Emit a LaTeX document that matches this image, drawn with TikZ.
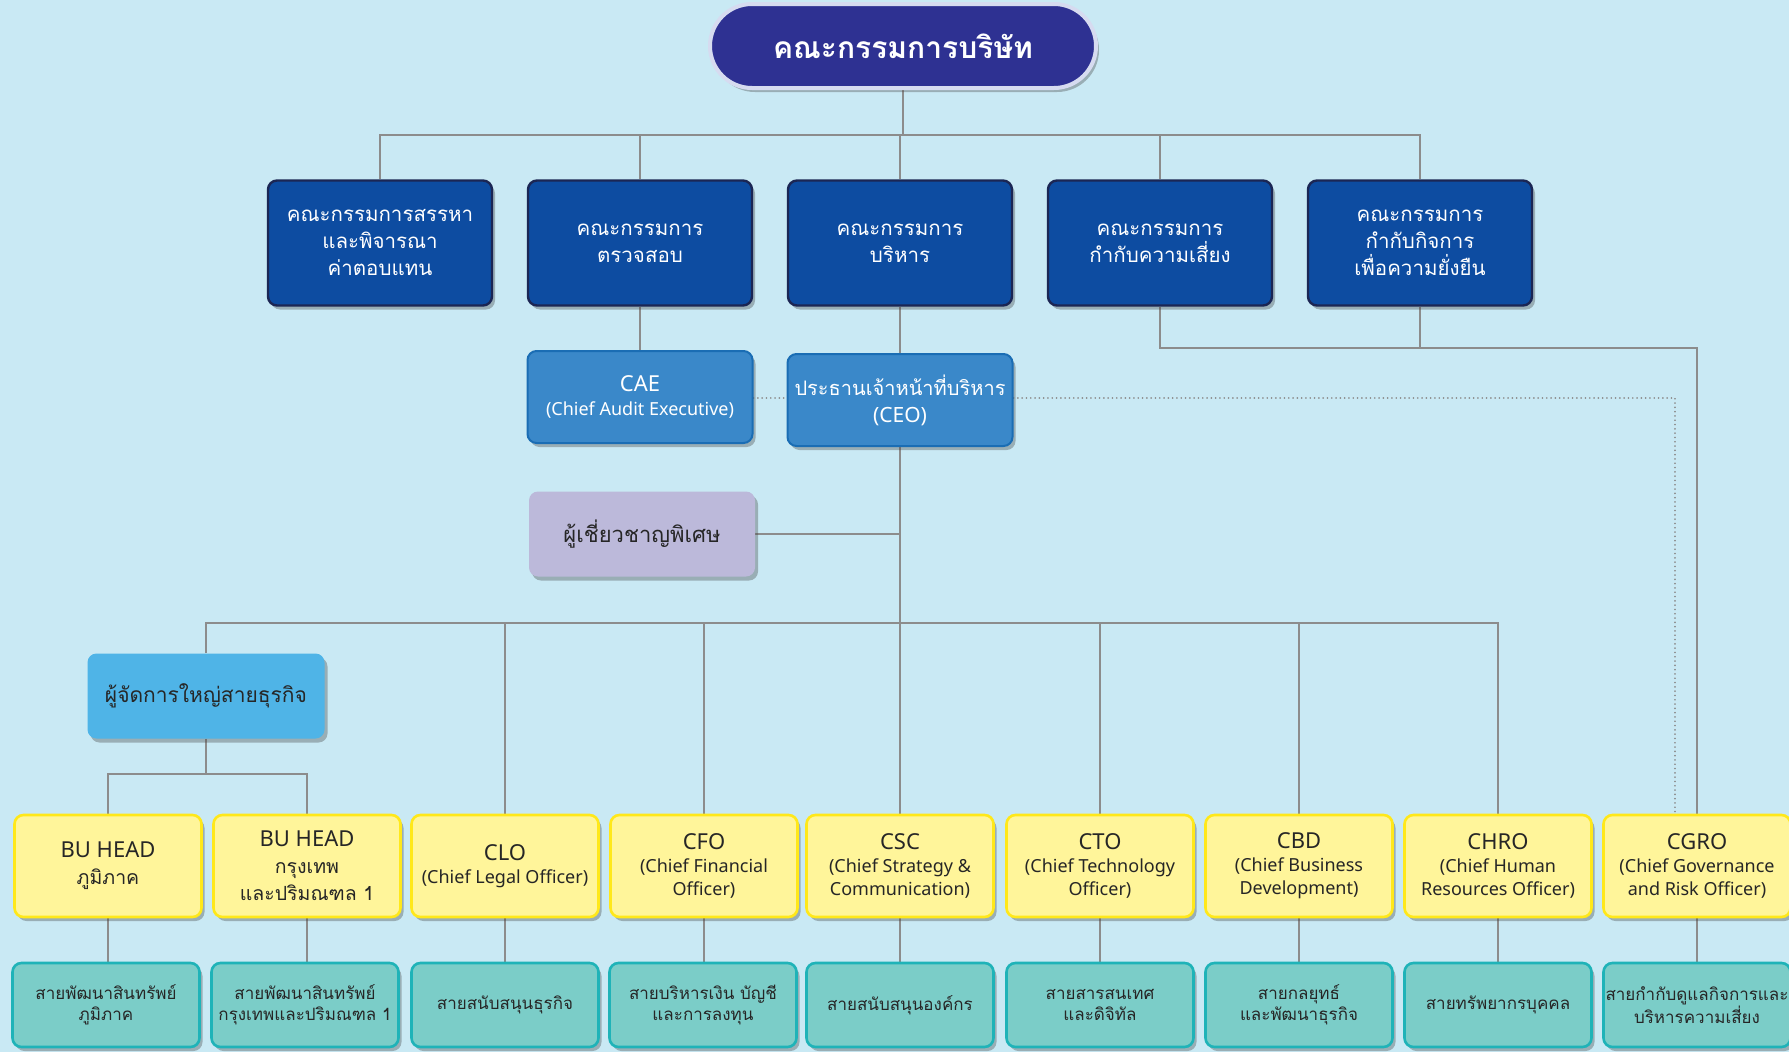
\documentclass[tikz,border=0pt]{standalone}
\usepackage{fontspec}
\setmainfont{Noto Sans}
\newfontfamily\thfont[Script=Thai]{Loma}
\usetikzlibrary{shadows}

\definecolor{bgblue}{HTML}{C9E9F4}
\definecolor{boardfill}{HTML}{2E3192}
\definecolor{boardline}{HTML}{D6DBF0}
\definecolor{comfill}{HTML}{0D4CA1}
\definecolor{comline}{HTML}{1B2654}
\definecolor{execfill}{HTML}{3A88C9}
\definecolor{execline}{HTML}{1A6DB4}
\definecolor{expfill}{HTML}{BCB9DA}
\definecolor{gmfill}{HTML}{4FB4E7}
\definecolor{yelfill}{HTML}{FFF59A}
\definecolor{yelline}{HTML}{FFE81A}
\definecolor{tealfill}{HTML}{7BCDC8}
\definecolor{tealline}{HTML}{1FB3B8}
\definecolor{linegray}{HTML}{8C8C8C}
\definecolor{inkdark}{HTML}{262626}

\pgfdeclarelayer{bgfill}
\pgfdeclarelayer{background}
\pgfsetlayers{bgfill,background,main}

\tikzset{
  conn/.style={draw=linegray, line width=2.8pt},
  dotconn/.style={draw=linegray, line width=1.7pt, line cap=round, dash pattern=on 0.1pt off 4.2pt},
  boxbase/.style={rectangle, rounded corners=9pt, inner sep=0pt, align=center,
    drop shadow={shadow xshift=3pt, shadow yshift=-4pt, opacity=0.35, fill=black!75}},
  boardbox/.style={boxbase, rounded corners=42pt, fill=boardfill, draw=boardline, line width=4pt,
    minimum width=386pt, minimum height=84pt, text=white,
    font=\thfont\bfseries\fontsize{30}{36}\selectfont},
  combox/.style={boxbase, fill=comfill, draw=comline, line width=2.4pt,
    minimum width=224pt, minimum height=125pt, text=white,
    font=\thfont\fontsize{20.5}{27}\selectfont},
  execbox/.style={boxbase, fill=execfill, draw=execline, line width=2pt,
    minimum width=225pt, minimum height=92pt, text=white},
  expbox/.style={boxbase, fill=expfill, minimum width=226pt, minimum height=85pt, text=inkdark,
    font=\thfont\fontsize{22}{27}\selectfont},
  gmbox/.style={boxbase, fill=gmfill, minimum width=237pt, minimum height=85pt, text=inkdark,
    font=\thfont\fontsize{21}{27}\selectfont},
  yelbox/.style={boxbase, fill=yelfill, draw=yelline, line width=2.6pt,
    minimum width=187pt, minimum height=102pt, text=inkdark,
    font=\fontsize{22}{23}\selectfont},
  tealbox/.style={boxbase, fill=tealfill, draw=tealline, line width=2.6pt,
    minimum width=187pt, minimum height=84pt, text=inkdark,
    font=\thfont\fontsize{17}{21}\selectfont},
}
% smaller second-level lines inside the officer boxes
\newcommand\subline{\fontsize{18}{20}\selectfont}
% Thai lines inside the officer boxes
\newcommand\thline{\thfont\fontsize{19.5}{23}\selectfont}

\begin{document}
\begin{tikzpicture}[x=1pt,y=-1pt]
\useasboundingbox (0,0) rectangle (1789,1052);
\begin{pgfonlayer}{bgfill}
  \fill[bgblue] (0,0) rectangle (1789,1052);
\end{pgfonlayer}

% board of directors
\node[boardbox] (board) at (903,46) {คณะกรรมการบริษัท};

% board committees
\node[combox] (c1) at (380,243) {คณะกรรมการสรรหา\\และพิจารณา\\ค่าตอบแทน};
\node[combox] (c2) at (640,243) {คณะกรรมการ\\ตรวจสอบ};
\node[combox] (c3) at (900,243) {คณะกรรมการ\\บริหาร};
\node[combox] (c4) at (1160,243) {คณะกรรมการ\\กำกับความเสี่ยง};
\node[combox] (c5) at (1420,243) {คณะกรรมการ\\กำกับกิจการ\\เพื่อความยั่งยืน};

% executives
\node[execbox, font=\fontsize{22}{24}\selectfont] (cae) at (640,397) {CAE\\\subline(Chief Audit Executive)};
\node[execbox, font=\fontsize{21}{27}\selectfont] (ceo) at (900,400) {\thfont\fontsize{20}{27}\selectfont ประธานเจ้าหน้าที่บริหาร\\(CEO)};
\node[expbox] (exp) at (642,534) {ผู้เชี่ยวชาญพิเศษ};
\node[gmbox] (gm) at (206,696) {ผู้จัดการใหญ่สายธุรกิจ};

% chief officers
\node[yelbox] (y1) at (108,866) {BU HEAD\\[4pt]\thline ภูมิภาค};
\node[yelbox] (y2) at (307,866) {BU HEAD\\[4pt]\thline กรุงเทพ\\[4pt]\thline และปริมณฑล 1};
\node[yelbox] (y3) at (505,866) {CLO\\\subline(Chief Legal Officer)};
\node[yelbox] (y4) at (704,866) {CFO\\\subline(Chief Financial\\\subline Officer)};
\node[yelbox] (y5) at (900,866) {CSC\\\subline(Chief Strategy \&\\\subline Communication)};
\node[yelbox] (y6) at (1100,866) {CTO\\\subline(Chief Technology\\\subline Officer)};
\node[yelbox] (y7) at (1299,866) {CBD\\\subline(Chief Business\\\subline Development)};
\node[yelbox] (y8) at (1498,866) {CHRO\\\subline(Chief Human\\\subline Resources Officer)};
\node[yelbox] (y9) at (1697,866) {CGRO\\\subline(Chief Governance\\\subline and Risk Officer)};

% divisions
\node[tealbox] (t1) at (106,1005) {สายพัฒนาสินทรัพย์\\ภูมิภาค};
\node[tealbox] (t2) at (305,1005) {สายพัฒนาสินทรัพย์\\กรุงเทพและปริมณฑล 1};
\node[tealbox] (t3) at (505,1005) {สายสนับสนุนธุรกิจ};
\node[tealbox] (t4) at (703,1005) {สายบริหารเงิน บัญชี\\และการลงทุน};
\node[tealbox] (t5) at (900,1005) {สายสนับสนุนองค์กร};
\node[tealbox] (t6) at (1100,1005) {สายสารสนเทศ\\และดิจิทัล};
\node[tealbox] (t7) at (1299,1005) {สายกลยุทธ์\\และพัฒนาธุรกิจ};
\node[tealbox] (t8) at (1498,1005) {สายทรัพยากรบุคคล};
\node[tealbox] (t9) at (1697,1005) {สายกำกับดูแลกิจการและ\\บริหารความเสี่ยง};

% connectors
\coordinate (busA) at (0,135);
\coordinate (busR) at (0,348);
\coordinate (dl) at (0,398);
\coordinate (dcorner) at (1675,398);
\coordinate (busB) at (0,623);
\coordinate (busC) at (0,774);
\begin{pgfonlayer}{background}
  \draw[conn] (board) -- (board |- busA);
  \draw[conn] (c1) -- (c1 |- busA) -- (c5 |- busA) -- (c5);
  \foreach \n in {c2,c3,c4} \draw[conn] (\n) -- (\n |- busA);
  \draw[conn] (c2) -- (cae);
  \draw[conn] (c3) -- (ceo);
  \draw[conn] (c4) -- (c4 |- busR) -- (y9 |- busR) -- (y9);
  \draw[conn] (c5) -- (c5 |- busR);
  \draw[dotconn] (cae.east |- dl) -- (ceo.west |- dl);
  \draw[dotconn] (ceo.east |- dl) -- (dcorner) -- (dcorner |- y9.north);
  \draw[conn] (exp) -- (exp -| ceo);
  \draw[conn] (ceo) -- (ceo |- busB);
  \draw[conn] (gm) -- (gm |- busB) -- (y8 |- busB) -- (y8);
  \foreach \n in {y3,y4,y5,y6,y7} \draw[conn] (\n) -- (\n |- busB);
  \draw[conn] (gm) -- (gm |- busC);
  \draw[conn] (y1) -- (y1 |- busC) -- (y2 |- busC) -- (y2);
  \foreach \i in {1,...,9} \draw[conn] (y\i) -- (y\i |- t\i);
\end{pgfonlayer}
\end{tikzpicture}
\end{document}
